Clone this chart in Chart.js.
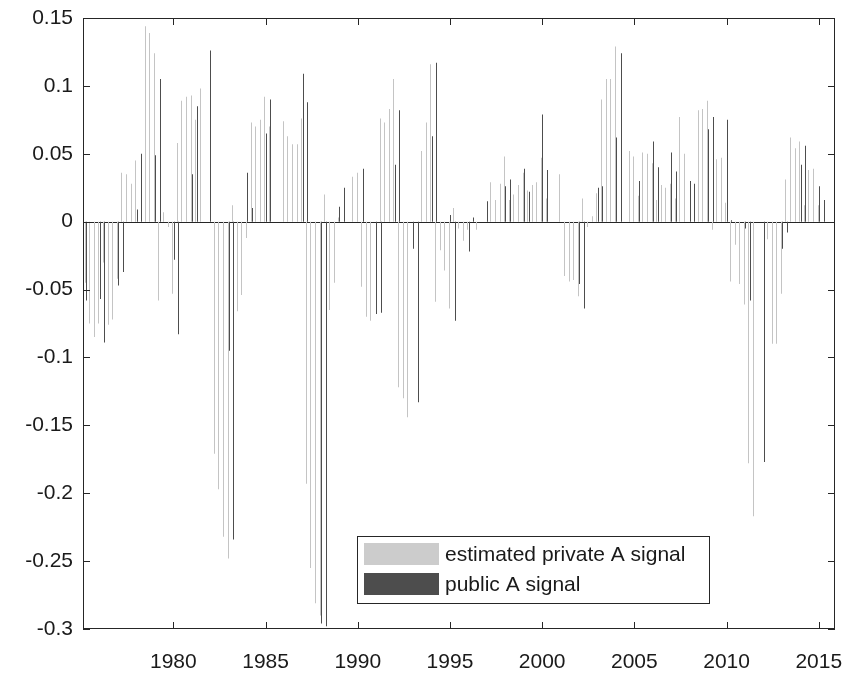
<!DOCTYPE html>
<html>
<head>
<meta charset="utf-8">
<script src="https://cdn.jsdelivr.net/npm/chart.js@4.4.1/dist/chart.umd.min.js"></script>
<style>
  html, body { margin: 0; padding: 0; background: #fff; }
</style>
</head>
<body>
<canvas id="signalChart" width="849" height="675"></canvas>
<script>
// quarterly series, first quarter at 1975.25
const startYear = 1975.25;
const seriesLabels = ['estimated private A signal', 'public A signal'];

const privateSignal = [
  -0.045, -0.075, -0.085, -0.075, -0.030, -0.076, -0.072, -0.042, 0.036, 0.035,
  0.028, 0.045, 0, 0.144, 0.139, 0.124, -0.058, 0.007, -0.004, -0.053,
  0.058, 0.089, 0.092, 0.093, 0.075, 0.098, 0, 0, -0.171, -0.197,
  -0.232, -0.248, 0.012, -0.066, -0.054, -0.012, 0.073, 0.070, 0.075, 0.092,
  0.070, 0, 0, 0.074, 0.063, 0.057, 0.057, 0.076, -0.193, -0.255,
  -0.281, -0.290, 0.020, -0.065, -0.045, 0.003, 0, 0, 0.033, 0.036,
  -0.048, -0.070, -0.073, 0, 0.076, 0.073, 0.083, 0.105, -0.122, -0.130,
  -0.144, 0, 0, 0.052, 0.073, 0.116, -0.059, -0.021, -0.036, -0.064,
  0.010, -0.005, -0.014, -0.006, 0, -0.006, 0, 0, 0.029, 0.016,
  0.028, 0.048, 0.016, 0.020, 0.027, 0.036, 0.023, 0.027, 0.029, 0.047,
  0.017, 0, 0, 0.035, -0.040, -0.044, -0.043, -0.055, 0.017, -0.004,
  0.004, 0.021, 0.090, 0.105, 0.105, 0.129, 0, 0, 0.052, 0.048,
  0.019, 0.051, 0.050, 0.043, 0.016, 0.027, 0.025, 0.028, 0.017, 0.077,
  0.050, 0, 0, 0.082, 0.083, 0.089, -0.006, 0.046, 0.047, 0.014,
  -0.044, -0.017, -0.046, -0.061, -0.178, -0.217, 0, 0, -0.013, -0.090,
  -0.090, -0.053, 0.031, 0.062, 0.054, 0.059, 0.012, 0.038, 0.039, 0.012,
  0
];

const publicSignal = [
  -0.058, 0, 0, -0.057, -0.089, 0, 0, -0.047, -0.037, 0,
  0, 0.009, 0.050, 0, 0, 0.049, 0.105, 0, 0, -0.028,
  -0.083, 0, 0, 0.035, 0.085, 0, 0, 0.126, 0, 0,
  0, -0.095, -0.234, 0, 0, 0.036, 0.010, 0, 0, 0.065,
  0.090, 0, 0, 0, 0, 0, 0, 0.109, 0.088, 0,
  0, -0.296, -0.298, 0, 0, 0.011, 0.025, 0, 0, 0,
  0.039, 0, 0, -0.068, -0.067, 0, 0, 0.042, 0.082, 0,
  0, -0.020, -0.133, 0, 0, 0.063, 0.117, 0, 0, 0.005,
  -0.073, 0, 0, -0.022, 0.003, 0, 0, 0.015, 0, 0,
  0, 0.026, 0.031, 0, 0, 0.039, 0.022, 0, 0, 0.079,
  0.038, 0, 0, 0, 0, 0, 0, -0.046, -0.064, 0,
  0, 0.025, 0.026, 0, 0, 0.062, 0.124, 0, 0, 0,
  0.030, 0, 0, 0.059, 0.040, 0, 0, 0.051, 0.037, 0,
  0, 0.030, 0.028, 0, 0, 0.068, 0.077, 0, 0, 0.075,
  0.001, 0, 0, -0.005, -0.058, 0, 0, -0.177, 0, 0,
  0, -0.020, -0.008, 0, 0, 0.042, 0.056, 0, 0, 0.026,
  0.016
];

const yearTicks = [1980, 1985, 1990, 1995, 2000, 2005, 2010, 2015];

const quarters = privateSignal.map((_, i) => startYear + i * 0.25);
const toPoints = arr => arr.map((v, i) => ({ x: quarters[i], y: v }));

const axisColor = '#262626';
const fontFamily = '"Liberation Sans", Arial, sans-serif';
Chart.defaults.font.family = fontFamily;
Chart.defaults.font.size = 21;
Chart.defaults.color = '#1a1a1a';

// snap the 1px bars onto whole pixels so they stay crisp
const crispBars = {
  id: 'crispBars',
  afterDatasetsUpdate(chart) {
    chart.data.datasets.forEach((ds, i) => {
      chart.getDatasetMeta(i).data.forEach(bar => {
        bar.x = Math.floor(bar.x) + 0.5;
      });
    });
  }
};

// box round the plot, zero baseline and inward tick marks
const boxAxes = {
  id: 'boxAxes',
  beforeDatasetsDraw(chart) {
    const { ctx, chartArea: a, scales: { y } } = chart;
    const y0 = Math.round(y.getPixelForValue(0)) + 0.5;
    ctx.save();
    ctx.strokeStyle = axisColor;
    ctx.lineWidth = 1;
    ctx.beginPath();
    ctx.moveTo(a.left, y0);
    ctx.lineTo(a.right, y0);
    ctx.stroke();
    ctx.restore();
  },
  afterDatasetsDraw(chart) {
    const { ctx, chartArea: a, scales: { x, y } } = chart;
    const len = 7;
    ctx.save();
    ctx.strokeStyle = axisColor;
    ctx.lineWidth = 1;
    ctx.strokeRect(a.left + 0.5, a.top + 0.5, a.right - a.left - 1, a.bottom - a.top - 1);
    ctx.beginPath();
    x.ticks.forEach(t => {
      const px = Math.round(x.getPixelForValue(t.value)) + 0.5;
      ctx.moveTo(px, a.bottom); ctx.lineTo(px, a.bottom - len);
      ctx.moveTo(px, a.top); ctx.lineTo(px, a.top + len);
    });
    y.ticks.forEach(t => {
      const py = Math.round(y.getPixelForValue(t.value)) + 0.5;
      ctx.moveTo(a.left, py); ctx.lineTo(a.left + len, py);
      ctx.moveTo(a.right, py); ctx.lineTo(a.right - len, py);
    });
    ctx.stroke();
    ctx.restore();
  }
};

// boxed legend sitting inside the plot
const boxLegend = {
  id: 'boxLegend',
  afterDraw(chart, args, opts) {
    const { ctx } = chart;
    const { left, top, width, height } = opts;
    ctx.save();
    ctx.fillStyle = '#fff';
    ctx.fillRect(left, top, width, height);
    ctx.strokeStyle = axisColor;
    ctx.lineWidth = 1;
    ctx.strokeRect(left + 0.5, top + 0.5, width - 1, height - 1);
    ctx.font = '21px ' + fontFamily;
    ctx.textBaseline = 'middle';
    chart.data.datasets.forEach((ds, i) => {
      const cy = top + 18 + i * 30;
      ctx.fillStyle = ds.legendColor;
      ctx.fillRect(left + 7, cy - 11, 75, 22);
      ctx.fillStyle = '#1a1a1a';
      ctx.fillText(ds.label, left + 88, cy + 1);
    });
    ctx.restore();
  }
};

const barStyle = { barPercentage: 1, categoryPercentage: 0.58, maxBarThickness: 1 };

// keep the plot box where it is, no room added for end labels
const noEdgePadding = s => {
  s.paddingLeft = 0; s.paddingRight = 0;
  s.paddingTop = 0; s.paddingBottom = 0;
};

new Chart(document.getElementById('signalChart'), {
  type: 'bar',
  data: {
    datasets: [
      Object.assign({ label: seriesLabels[0], data: toPoints(privateSignal),
        backgroundColor: '#c4c4c4', legendColor: '#cccccc' }, barStyle),
      Object.assign({ label: seriesLabels[1], data: toPoints(publicSignal),
        backgroundColor: '#4d4d4d', legendColor: '#4d4d4d' }, barStyle)
    ]
  },
  options: {
    responsive: false,
    animation: false,
    layout: { padding: { top: 18, right: 14, left: 0, bottom: 0 } },
    plugins: {
      legend: { display: false },
      tooltip: { enabled: false },
      boxLegend: { left: 357, top: 536, width: 353, height: 68 }
    },
    scales: {
      x: {
        type: 'linear',
        min: 1975.1,
        max: 2015.88,
        offset: false,
        grid: { display: false, drawTicks: false, tickLength: 0 },
        border: { display: false },
        ticks: { padding: 21, maxRotation: 0, callback: v => String(v) },
        afterBuildTicks: s => { s.ticks = yearTicks.map(v => ({ value: v })); },
        afterFit: s => { s.height = 46; noEdgePadding(s); }
      },
      y: {
        min: -0.3,
        max: 0.15,
        grid: { display: false, drawTicks: false, tickLength: 0 },
        border: { display: false },
        ticks: { stepSize: 0.05, padding: 10, callback: v => String(parseFloat(v.toFixed(2))) },
        afterFit: s => { s.width = 83; noEdgePadding(s); }
      }
    }
  },
  plugins: [crispBars, boxAxes, boxLegend]
});
</script>
</body>
</html>
